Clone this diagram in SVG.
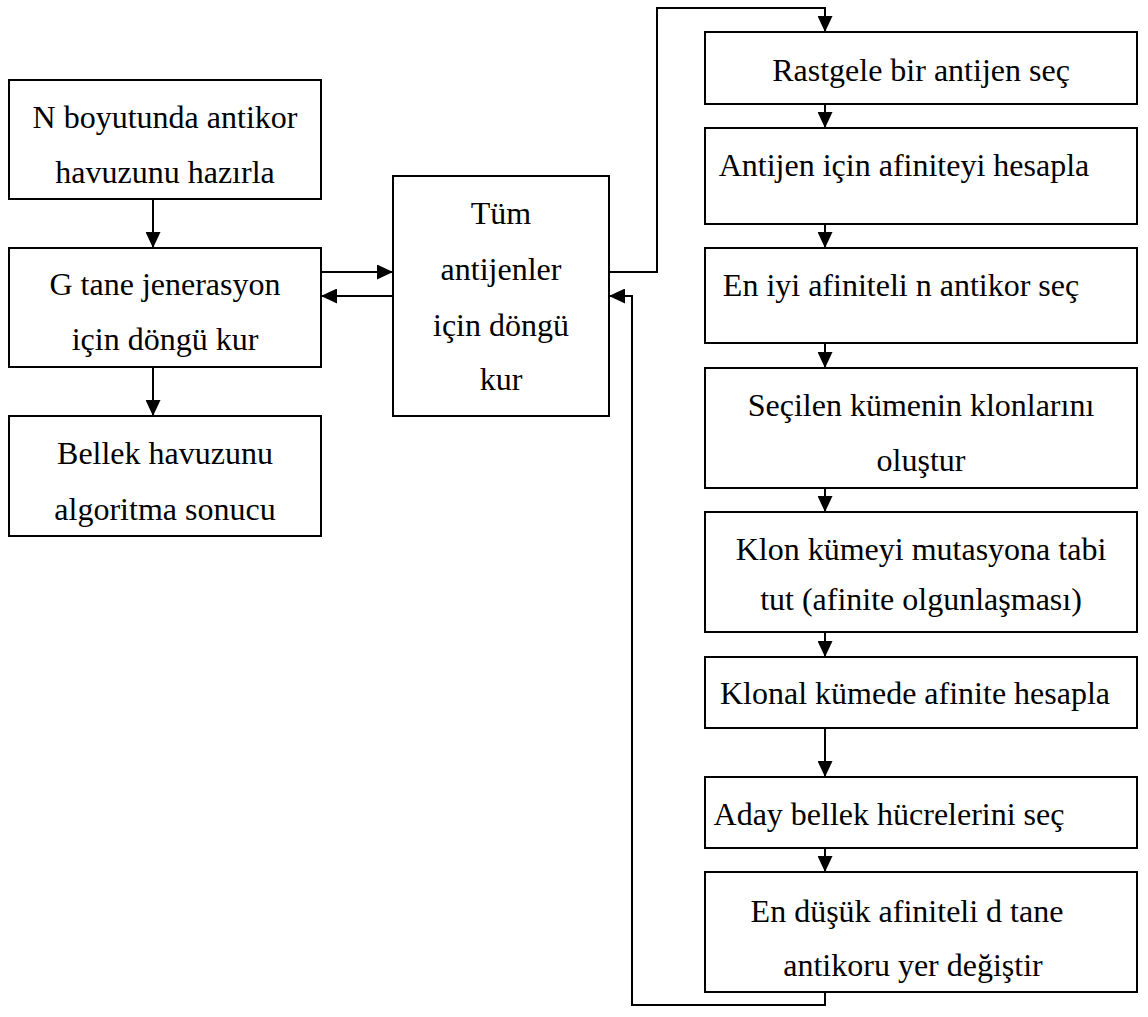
<svg xmlns="http://www.w3.org/2000/svg" width="1148" height="1017" viewBox="0 0 1148 1017">
  <style>
    .box { fill: #ffffff; stroke: #000000; stroke-width: 2; }
    .lbl { font-family: "Liberation Serif", "Times New Roman", serif; font-size: 32px; fill: #000000; text-anchor: middle; }
    .wire { fill: none; stroke: #000000; stroke-width: 2; }
  </style>
  <defs>
    <marker id="arrow" viewBox="0 0 16 15" refX="16" refY="7.5" markerWidth="16" markerHeight="15" markerUnits="userSpaceOnUse" orient="auto">
      <path d="M0,0 L16,7.5 L0,15 z" fill="#000000"/>
    </marker>
  </defs>
  <rect width="1148" height="1017" fill="#ffffff"/>

  <!-- connectors -->
  <g id="connectors">
    <path class="wire" d="M153,199 V248" marker-end="url(#arrow)"/>
    <path class="wire" d="M153,367 V416" marker-end="url(#arrow)"/>
    <path class="wire" d="M321,272 H393" marker-end="url(#arrow)"/>
    <path class="wire" d="M393,296 H321" marker-end="url(#arrow)"/>
    <path class="wire" d="M609,272 H657 V8 H825 V32" marker-end="url(#arrow)"/>
    <path class="wire" d="M825,104 V128" marker-end="url(#arrow)"/>
    <path class="wire" d="M825,224 V248" marker-end="url(#arrow)"/>
    <path class="wire" d="M825,343 V368" marker-end="url(#arrow)"/>
    <path class="wire" d="M825,488 V512" marker-end="url(#arrow)"/>
    <path class="wire" d="M825,632 V657" marker-end="url(#arrow)"/>
    <path class="wire" d="M825,728 V777" marker-end="url(#arrow)"/>
    <path class="wire" d="M825,848 V872" marker-end="url(#arrow)"/>
    <path class="wire" d="M825,992 V1005 H632 V296 H609" marker-end="url(#arrow)"/>
  </g>

  <!-- left column -->
  <g id="init-pool">
    <rect class="box" x="9" y="80" width="312" height="119"/>
    <text class="lbl" x="165" y="128">N boyutunda antikor</text>
    <text class="lbl" x="165" y="183">havuzunu hazırla</text>
  </g>
  <g id="generation-loop">
    <rect class="box" x="9" y="248" width="312" height="119"/>
    <text class="lbl" x="165" y="295">G tane jenerasyon</text>
    <text class="lbl" x="165" y="350">için döngü kur</text>
  </g>
  <g id="result">
    <rect class="box" x="9" y="416" width="312" height="120"/>
    <text class="lbl" x="165" y="464">Bellek havuzunu</text>
    <text class="lbl" x="165" y="520">algoritma sonucu</text>
  </g>

  <!-- antigen loop -->
  <g id="antigen-loop">
    <rect class="box" x="393" y="176" width="216" height="240"/>
    <text class="lbl" x="501" y="224">Tüm</text>
    <text class="lbl" x="501" y="280">antijenler</text>
    <text class="lbl" x="501" y="336">için döngü</text>
    <text class="lbl" x="501" y="390">kur</text>
  </g>

  <!-- right column -->
  <g id="pick-antigen">
    <rect class="box" x="705" y="32" width="432" height="72"/>
    <text class="lbl" x="921" y="81">Rastgele bir antijen seç</text>
  </g>
  <g id="affinity">
    <rect class="box" x="705" y="128" width="432" height="96"/>
    <text class="lbl" x="904" y="176">Antijen için afiniteyi hesapla</text>
  </g>
  <g id="best-n">
    <rect class="box" x="705" y="248" width="432" height="95"/>
    <text class="lbl" x="901" y="296">En iyi afiniteli n antikor seç</text>
  </g>
  <g id="clone">
    <rect class="box" x="705" y="368" width="432" height="120"/>
    <text class="lbl" x="921" y="416">Seçilen kümenin klonlarını</text>
    <text class="lbl" x="921" y="471">oluştur</text>
  </g>
  <g id="mutate">
    <rect class="box" x="705" y="512" width="432" height="120"/>
    <text class="lbl" x="921" y="560">Klon kümeyi mutasyona tabi</text>
    <text class="lbl" x="921" y="610">tut (afinite olgunlaşması)</text>
  </g>
  <g id="clone-affinity">
    <rect class="box" x="705" y="657" width="432" height="71"/>
    <text class="lbl" x="915" y="704">Klonal kümede afinite hesapla</text>
  </g>
  <g id="candidates">
    <rect class="box" x="705" y="777" width="432" height="71"/>
    <text class="lbl" x="889" y="825">Aday bellek hücrelerini seç</text>
  </g>
  <g id="replace">
    <rect class="box" x="705" y="872" width="432" height="120"/>
    <text class="lbl" x="907" y="922">En düşük afiniteli d tane</text>
    <text class="lbl" x="913" y="976">antikoru yer değiştir</text>
  </g>
</svg>
